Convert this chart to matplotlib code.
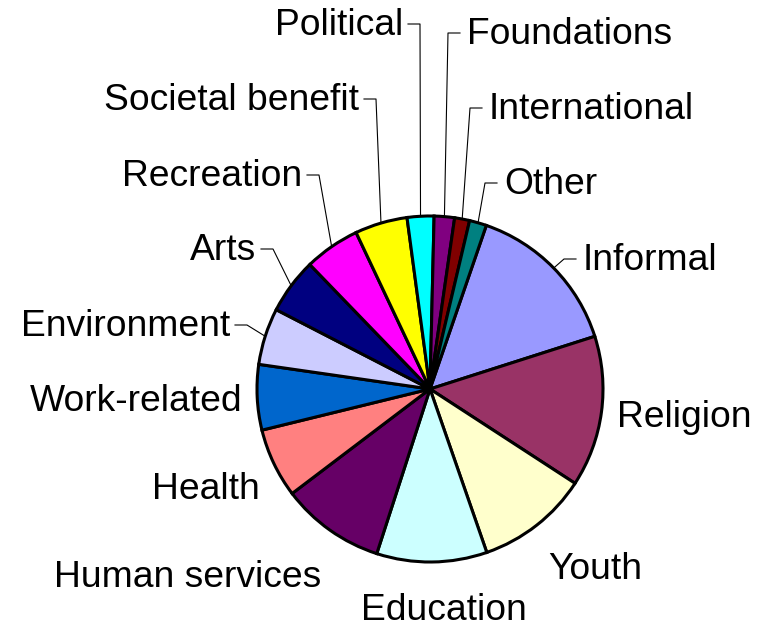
import numpy as np
import matplotlib.pyplot as plt

# доли по направлениям (в процентах)
labels = ['Informal', 'Religion', 'Youth', 'Education', 'Human services',
          'Health', 'Work-related', 'Environment', 'Arts', 'Recreation',
          'Societal benefit', 'Political', 'Foundations', 'International', 'Other']
values = [14.8, 14.1, 10.5, 10.3, 9.7, 6.5, 6.1, 5.3, 5.2, 5.2, 4.9, 2.5, 1.9, 1.4, 1.6]
colors = ['#9999FF', '#993366', '#FFFFCC', '#CCFFFF', '#660066', '#FF8080',
          '#0066CC', '#CCCCFF', '#000080', '#FF00FF', '#FFFF00', '#00FFFF',
          '#800080', '#800000', '#008080']

# раскладка подписей: x, базовая линия (пикселы от верха), выравнивание, выноска
label_x = [583, 617, 548, 361, 321, 260, 242, 230, 256, 302, 359, 403, 467, 489, 504]
label_y = [270, 427, 579, 620, 587, 499, 411, 336, 260, 186, 110, 35, 44, 119, 194]
label_ha = ['left', 'left', 'left', 'left', 'right', 'right', 'right', 'right',
            'right', 'right', 'right', 'right', 'left', 'left', 'left']
leader = [True, False, False, False, False, False, False, True,
          True, True, True, True, True, True, True]

W, H = 765, 624
fig = plt.figure(figsize=(W / 100, H / 100), dpi=100)
ax = fig.add_axes([0, 0, 1, 1])

cx, cy, r = 430, H - 389, 173
wedges, _ = ax.pie(values, colors=colors, startangle=90 - 19, counterclock=False,
                   center=(cx, cy), radius=r,
                   wedgeprops=dict(edgecolor='black', linewidth=2.2))
ax.set_xlim(0, W)
ax.set_ylim(0, H)
ax.set_aspect('equal')
ax.axis('off')

for w, name, x, y, ha, lead in zip(wedges, labels, label_x, label_y, label_ha, leader):
    yb = H - y
    ax.text(x, yb, name, ha=ha, va='baseline', fontsize=26.8,
            family=['Liberation Sans', 'DejaVu Sans'])
    if lead:
        mid = np.deg2rad((w.theta1 + w.theta2) / 2)
        px, py = cx + r * np.cos(mid), cy + r * np.sin(mid)
        ly = yb + 11
        if ha == 'right':
            xs = [px, x + 17, x + 5]
        else:
            xs = [px, x - 19, x - 7]
        ax.plot(xs, [py, ly, ly], color='black', lw=0.8, zorder=0)

fig.savefig('out.png', dpi=100, facecolor='white')
